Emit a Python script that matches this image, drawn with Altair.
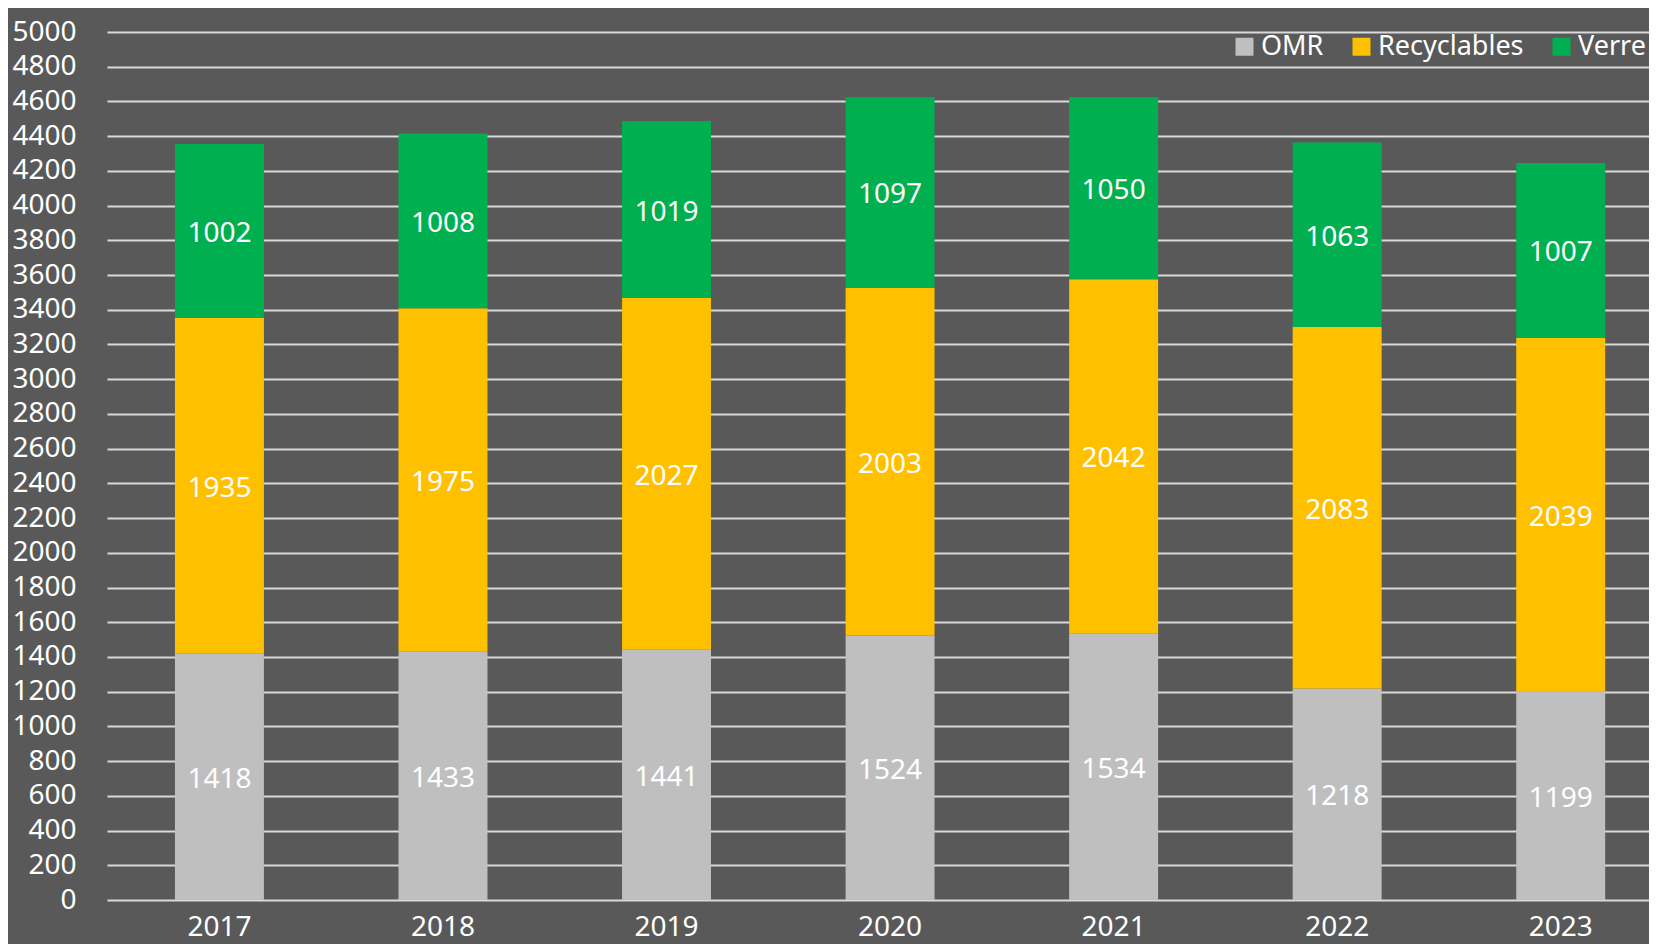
import altair as alt
import pandas as pd

years = ["2017", "2018", "2019", "2020", "2021", "2022", "2023"]
omr = [1418, 1433, 1441, 1524, 1534, 1218, 1199]
recyclables = [1935, 1975, 2027, 2003, 2042, 2083, 2039]
verre = [1002, 1008, 1019, 1097, 1050, 1063, 1007]
series = ["OMR", "Recyclables", "Verre"]
colors = ["#BFBFBF", "#FFC000", "#00B050"]
y_ticks = list(range(0, 5001, 200))

rows = []
for i, y in enumerate(years):
    for k, (name, vals) in enumerate(zip(series, [omr, recyclables, verre])):
        rows.append({"year": y, "serie": name, "value": vals[i], "ord": k})
df = pd.DataFrame(rows)

FONT = "Noto Sans"

base = (
    alt.Chart(df)
    .transform_stack(stack="value", as_=["v0", "v1"], groupby=["year"],
                     sort=[alt.SortField("ord", order="ascending")])
    .transform_calculate(mid="(datum.v0 + datum.v1) / 2")
)

xscale = alt.Scale(paddingInner=0.602, paddingOuter=0.25, align=0.608)
yscale = alt.Scale(domain=[0, 5000], nice=False)

xaxis = alt.Axis(labelAngle=0, labelFontSize=28, labelColor="#FFFFFF", labelFont=FONT,
                 labelPadding=13, domain=False, ticks=False, grid=False)
yaxis = alt.Axis(values=y_ticks, format="d", labelOverlap=False,
                 labelFontSize=28, labelColor="#FFFFFF", labelFont=FONT,
                 labelPadding=31, domain=False, ticks=False, grid=True,
                 gridColor="#D9D9D9", gridWidth=2)

bars = base.mark_bar().encode(
    x=alt.X("year:N", title=None, sort=years, scale=xscale, axis=xaxis),
    y=alt.Y("v0:Q", title=None, scale=yscale, axis=yaxis),
    y2="v1:Q",
    color=alt.Color("serie:N", scale=alt.Scale(domain=series, range=colors),
                    legend=alt.Legend(title=None, orient="none", legendX=1124, legendY=1,
                                      direction="horizontal", symbolType="square",
                                      symbolSize=324, symbolStrokeWidth=0,
                                      labelFontSize=27, labelColor="#FFFFFF", labelFont=FONT,
                                      labelOffset=3, columnPadding=24, padding=0,
                                      labelLimit=400)),
)

labels = base.mark_text(color="#FFFFFF", fontSize=28, font=FONT, baseline="middle", dy=3).encode(
    x=alt.X("year:N", title=None, sort=years, scale=xscale, axis=xaxis),
    y=alt.Y("mid:Q", title=None, scale=yscale, axis=yaxis),
    text=alt.Text("value:Q"),
)

chart = (
    alt.layer(bars, labels)
    .properties(width=1542, height=868, background="#595959",
                padding={"left": 99, "top": 24, "right": 0, "bottom": 44},
                autosize=alt.AutoSizeParams(type="none"))
    .configure_view(stroke=None)
)

chart.save("out.html", embed_options={"renderer": "svg", "actions": False})
